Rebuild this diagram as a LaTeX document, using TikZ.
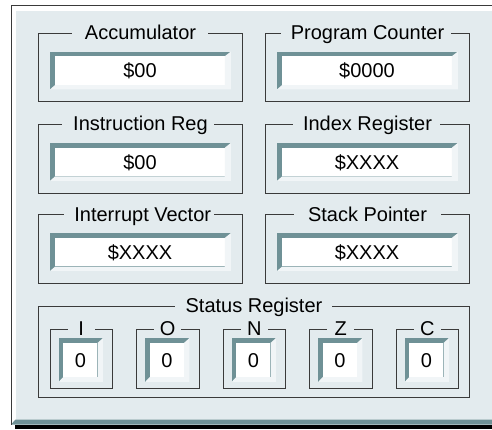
\documentclass[tikz,border=0pt]{standalone}
\usepackage{fontspec}
\setmainfont{Liberation Sans}
\usetikzlibrary{calc}
\definecolor{panel}{HTML}{E3EBEE}
\definecolor{teal}{HTML}{6F9196}
\definecolor{bevl}{HTML}{F1F5F7}
\definecolor{frm}{HTML}{3A3A3A}
\tikzset{
  grp/.style={draw=frm, line width=1pt, inner sep=0pt, minimum width=204pt, minimum height=68.75pt},
  grplabel/.style={fill=panel, anchor=base, inner sep=0pt, text height=14pt, text depth=4pt, font=\fontsize{20}{24}\selectfont},
  fieldout/.style={fill=teal, inner sep=0pt, minimum width=180.5pt, minimum height=37.5pt},
  fieldin/.style={fill=white, inner sep=0pt, minimum width=169.5pt, minimum height=28.5pt, text height=14.3pt, text depth=0pt, font=\fontsize{20}{24}\selectfont},
  bitbox/.style={draw=frm, line width=1pt, inner sep=0pt, minimum width=62.5pt, minimum height=59pt},
  bitlabel/.style={fill=panel, anchor=base, inner xsep=2pt, inner ysep=0pt, text height=14pt, text depth=4pt, minimum width=27pt, font=\fontsize{20}{24}\selectfont},
  bitout/.style={fill=teal, inner sep=0pt, minimum width=44pt, minimum height=43.5pt},
  bitin/.style={fill=white, inner sep=0pt, minimum width=34pt, minimum height=34pt, text height=14.3pt, text depth=0pt, font=\fontsize{20}{24}\selectfont},
  bevlight/.style={fill=bevl}
}
% #1 name, #2 frame node, #3 text, #4 left pad, #5 right pad, #6 xshift of text
\newcommand\grouplabel[6]{%
  \node[grplabel, xshift={(#6+(#5-#4)/2)*1pt}] (#1) at ([yshift=-7pt]#2.north) {\hspace*{#4pt}#3\hspace*{#5pt}};
}
% #1 name, #2 x, #3 y, #4 label, #5 value, #6 lpad, #7 rpad, #8 xshift
\newcommand\regbox[8]{%
  \node[grp] (#1) at (#2,#3) {};
  \grouplabel{#1-l}{#1}{#4}{#6}{#7}{#8}
  \node[fieldout] (#1-o) at ([yshift=-3pt]#1.center) {};
  \node[fieldin] (#1-v) at ([xshift=-0.5pt,yshift=-0.2pt]#1-o.center) {#5};
  \fill[bevlight] (#1-o.north east) -- (#1-o.south east) -- (#1-o.south west) -- (#1-v.south west) -- (#1-v.south east) -- (#1-v.north east) -- cycle;
}
\newcommand\bitreg[3]{%
  \node[bitbox] (#1) at (#2,358.5) {};
  \node[bitlabel] (#1-l) at ([yshift=-7pt]#1.north) {#3};
  \node[bitout] (#1-o) at ([xshift=-0.5pt,yshift=-1.5pt]#1.center) {};
  \node[bitin] (#1-v) at ([xshift=-0.3pt]#1-o.center) {0};
  \fill[bevlight] (#1-o.north east) -- (#1-o.south east) -- (#1-o.south west) -- (#1-v.south west) -- (#1-v.south east) -- (#1-v.north east) -- cycle;
}
\begin{document}
\begin{tikzpicture}[x=1pt,y=-1pt]
\useasboundingbox (0,0) rectangle (492,429);
\fill[white] (0,0) rectangle (492,429);
% window frame
\fill[panel] (15.5,10.5) rectangle (492,419.5);
\fill[teal] (11,424.5) -- (15.5,419.5) -- (492,419.5) -- (492,424.5) -- cycle;
\fill[black] (15,424.5) rectangle (492,429);
\draw[frm, line width=1pt] (11.5,424.5) -- (11.5,5.5) -- (492,5.5);
% registers
\regbox{acc}{140.5}{67.4}{Accumulator}{\$00}{13}{12}{0}
\regbox{pc}{367.5}{67.4}{Program Counter}{\$0000}{10}{7}{0}
\regbox{ir}{140.5}{158.8}{Instruction Reg}{\$00}{11}{6}{0}
\regbox{ix}{367.5}{158.8}{Index Register}{\$XXXX}{10}{8}{0}
\regbox{iv}{140.5}{249}{Interrupt Vector}{\$XXXX}{10.5}{2.7}{2.2}
\regbox{sp}{367.5}{249}{Stack Pointer}{\$XXXX}{14.5}{14}{0}
% status register
\node[draw=frm, line width=1pt, inner sep=0pt, minimum width=431pt, minimum height=91pt] (st) at (254,351.5) {};
\grouplabel{st-l}{st}{Status Register}{11}{10}{0}
\bitreg{bi}{81.25}{I}
\bitreg{bo}{167.75}{O}
\bitreg{bn}{254.25}{N}
\bitreg{bz}{340.75}{Z}
\bitreg{bc}{427.25}{C}
\end{tikzpicture}
\end{document}
